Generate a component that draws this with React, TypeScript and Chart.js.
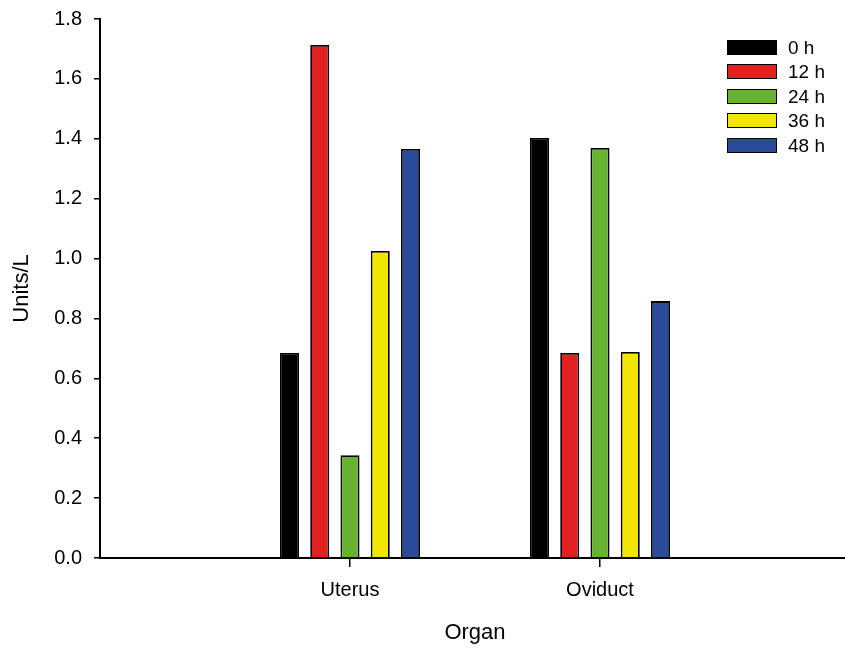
import React, { useEffect, useRef } from "react";
import { Chart, registerables } from "chart.js";

Chart.register(...registerables);

const categories = ["Uterus", "Oviduct"];
const seriesNames = ["0 h", "12 h", "24 h", "36 h", "48 h"];
const h0 = [0.685, 1.403];
const h12 = [1.713, 0.685];
const h24 = [0.343, 1.369];
const h36 = [1.025, 0.688];
const h48 = [1.366, 0.858];
const seriesValues = [h0, h12, h24, h36, h48];
const seriesColors = ["#000000", "#E31F1F", "#67B22F", "#F2E600", "#2A4B9A"];
const yTicks = [0, 0.2, 0.4, 0.6, 0.8, 1.0, 1.2, 1.4, 1.6, 1.8];

const FONT = "'Liberation Sans', Arial, sans-serif";

export default function App() {
  const ref = useRef<HTMLCanvasElement | null>(null);

  useEffect(() => {
    if (!ref.current) return;
    const labels = ["", ...categories, ""];
    const chart = new Chart(ref.current, {
      type: "bar",
      data: {
        labels,
        datasets: seriesNames.map((name, i) => ({
          label: name,
          data: [null, ...seriesValues[i], null],
          backgroundColor: seriesColors[i],
          borderColor: "#000000",
          borderWidth: 1.8,
          categoryPercentage: 0.605,
          barPercentage: 0.63,
        })),
      },
      options: {
        responsive: false,
        animation: false,
        layout: { padding: { top: 19, left: 0, right: 0, bottom: 0 } },
        plugins: { legend: { display: false }, tooltip: { enabled: false } },
        scales: {
          x: {
            type: "category",
            offset: false,
            afterFit: (s: any) => {
              s.height = 91;
              s.paddingLeft = 0;
              s.paddingRight = 0;
            },
            grid: {
              offset: false,
              drawOnChartArea: false,
              tickLength: 9,
              lineWidth: 1.5,
              color: (ctx: any) =>
                ctx.index === 1 || ctx.index === 2 ? "#000000" : "rgba(0,0,0,0)",
            },
            border: { color: "#000000", width: 2 },
            ticks: {
              autoSkip: false,
              maxRotation: 0,
              color: "#000000",
              padding: 11,
              font: { family: FONT, size: 20 },
            },
            title: {
              display: true,
              text: "Organ",
              color: "#000000",
              font: { family: FONT, size: 22 },
              padding: { top: 0, bottom: 3 },
            },
          },
          y: {
            min: 0,
            max: 1.8,
            afterFit: (s: any) => {
              s.width = 100;
              s.paddingTop = 0;
              s.paddingBottom = 0;
            },
            afterBuildTicks: (s: any) => {
              s.ticks = yTicks.map((v) => ({ value: v }));
            },
            grid: {
              drawOnChartArea: false,
              tickLength: 6,
              lineWidth: 1.5,
              color: "#000000",
            },
            border: { color: "#000000", width: 2 },
            ticks: {
              color: "#000000",
              padding: 12,
              font: { family: FONT, size: 20 },
              callback: (v: any) => Number(v).toFixed(1),
            },
            title: {
              display: true,
              text: "Units/L",
              color: "#000000",
              font: { family: FONT, size: 22 },
              padding: { top: 9, bottom: 0 },
            },
          },
        },
      },
    });
    return () => chart.destroy();
  }, []);

  return (
    <div
      style={{
        position: "absolute",
        left: 0,
        top: 0,
        width: 845,
        height: 649,
        overflow: "hidden",
        background: "#ffffff",
      }}
    >
      <canvas ref={ref} width={850} height={649} style={{ display: "block" }} />
      {seriesNames.map((name, i) => (
        <div
          key={name}
          style={{
            position: "absolute",
            left: 727,
            top: 39.5 + i * 24.5,
            height: 15,
            display: "flex",
            alignItems: "center",
            fontFamily: FONT,
            fontSize: 19,
            color: "#000000",
          }}
        >
          <div
            style={{
              width: 50,
              height: 15,
              boxSizing: "border-box",
              background: seriesColors[i],
              border: "1.5px solid #000000",
            }}
          />
          <span style={{ marginLeft: 11, lineHeight: "15px" }}>{name}</span>
        </div>
      ))}
    </div>
  );
}
